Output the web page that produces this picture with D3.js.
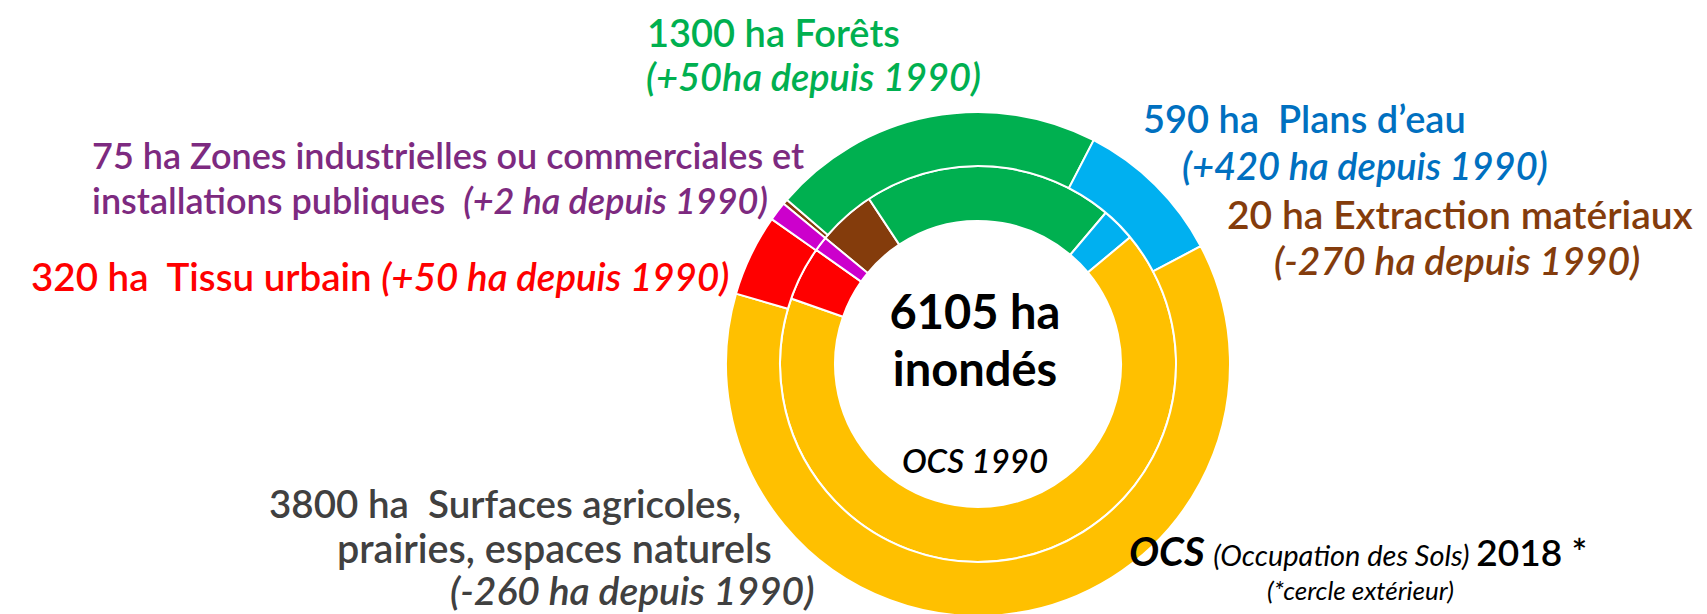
<!DOCTYPE html>
<html>
<head>
<meta charset="utf-8">
<script src="https://cdn.jsdelivr.net/npm/d3@7"></script>
<style>
  body { margin: 0; background: #fff; }
  svg text { font-family: Lato, "Open Sans", sans-serif; white-space: pre; }
</style>
</head>
<body>
<div id="chart"></div>
<script>
// occupation des sols dans la zone inondee (ha)
const categories = ["Extraction matériaux", "Forêts", "Plans d'eau", "Surfaces agricoles", "Tissu urbain", "Zones industrielles"];
const values2018 = [20, 1300, 590, 3800, 320, 75];
const values1990 = [290, 1250, 170, 4060, 270, 73];
const colors = ["#843C0C", "#00B050", "#00B0F0", "#FFC000", "#FF0000", "#CC00CC"];

const width = 1707, height = 614;
const cx = 978, cy = 364;
const rOuter = 252, rMid = 198, rInner = 143;
const start = -50.5 * Math.PI / 180;

const svg = d3.select('#chart').append('svg')
    .attr('width', width)
    .attr('height', height);

const pie = d3.pie().sort(null).startAngle(start).endAngle(start + 2 * Math.PI);

const g = svg.append('g').attr('transform', 'translate(' + cx + ',' + cy + ')');

function ring(values, r0, r1, cls) {
    const arc = d3.arc().innerRadius(r0).outerRadius(r1);
    g.selectAll('.' + cls)
        .data(pie(values))
        .enter()
        .append('path')
        .attr('class', cls)
        .attr('d', arc)
        .attr('fill', function(d, i) { return colors[i]; })
        .attr('stroke', '#fff')
        .attr('stroke-width', 2);
}
ring(values1990, rInner, rMid, 'r1990');
ring(values2018, rMid, rOuter, 'r2018');

// labels : [x, y, couleur, taille, [[texte, italique], ...]]
const labels = [
    [647, 47, "#00B050", 38, [["1300 ha Forêts", false]]],
    [646, 91, "#00B050", 38, [["(+50ha depuis 1990)", true]]],
    [1143, 133, "#0070C0", 38, [["590 ha  Plans d’eau", false]]],
    [1182, 180, "#0070C0", 38, [["(+420 ha depuis 1990)", true]]],
    [1227, 229, "#843C0C", 39, [["20 ha Extraction matériaux", false]]],
    [1274, 275, "#843C0C", 39, [["(-270 ha depuis 1990)", true]]],
    [92, 169, "#7D2A80", 36, [["75 ha Zones industrielles ou commerciales et", false]]],
    [92, 214, "#7D2A80", 36, [["installations publiques  ", false], ["(+2 ha depuis 1990)", true]]],
    [31, 291, "#FF0000", 38.5, [["320 ha  Tissu urbain ", false], ["(+50 ha depuis 1990)", true]]],
    [269, 518, "#404040", 38.5, [["3800 ha  Surfaces agricoles,", false]]],
    [337, 563, "#404040", 39.5, [["prairies, espaces naturels", false]]],
    [450, 605, "#404040", 39, [["(-260 ha depuis 1990)", true]]]
];

labels.forEach(function(l) {
    const t = svg.append('text')
        .attr('x', l[0]).attr('y', l[1])
        .attr('fill', l[2])
        .attr('font-size', l[3])
        .attr('font-weight', 600);
    l[4].forEach(function(s) {
        t.append('tspan').text(s[0]).attr('font-style', s[1] ? 'italic' : 'normal');
    });
});

// centre
svg.append('text').attr('x', 975).attr('y', 329).attr('text-anchor', 'middle')
    .attr('font-size', 47).attr('font-weight', 700).text('6105 ha');
svg.append('text').attr('x', 975).attr('y', 386).attr('text-anchor', 'middle')
    .attr('font-size', 47).attr('font-weight', 700).text('inondés');
svg.append('text').attr('x', 975).attr('y', 473).attr('text-anchor', 'middle')
    .attr('font-size', 33).attr('font-weight', 600).attr('font-style', 'italic').text('OCS 1990');

// legende des cercles
const leg = svg.append('text').attr('x', 1129).attr('y', 566).attr('fill', '#000');
leg.append('tspan').text('OCS ').attr('font-size', 40).attr('font-weight', 700).attr('font-style', 'italic');
leg.append('tspan').text('(Occupation des Sols) ').attr('font-size', 29).attr('font-style', 'italic');
leg.append('tspan').text('2018 *').attr('font-size', 37).attr('font-weight', 600);
svg.append('text').attr('x', 1267).attr('y', 600).attr('font-size', 26)
    .attr('font-style', 'italic').text('(*cercle extérieur)');
</script>
</body>
</html>
